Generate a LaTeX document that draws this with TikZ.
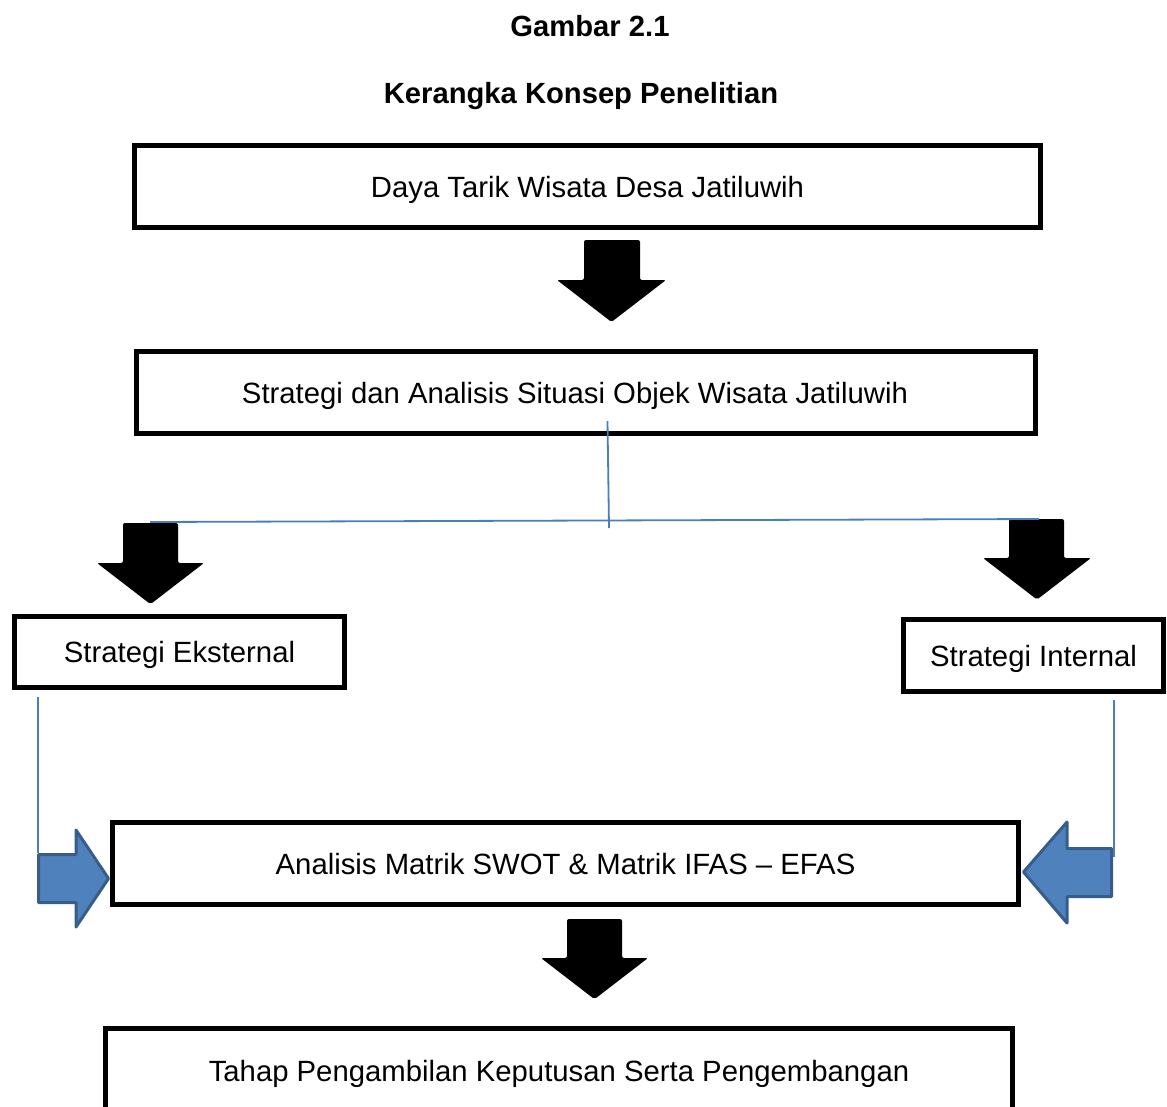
\documentclass[tikz,border=0pt]{standalone}
\usepackage{fontspec}
\setmainfont{Liberation Sans}
\definecolor{lineblue}{HTML}{4A7EBB}
\definecolor{fillblue}{HTML}{4F81BD}
\definecolor{edgeblue}{HTML}{385D8A}
\newcommand{\BlkDown}[6]{% shaft left, shaft right, top, head base, head left, head right ; tip computed
  \fill[black,rounded corners=2pt] (#1,#3) -- (#2,#3) -- (#2,#4) -- (#6,#4) -- ({(#5+#6)/2},{#4+(#6-#5)*0.385}) -- (#5,#4) -- (#1,#4) -- cycle;}
\begin{document}
\begin{tikzpicture}[x=1pt,y=-1pt,
  box/.style={draw=black,line width=5pt,rectangle,inner sep=0pt,
    font=\fontsize{29.3}{35}\selectfont,text height=21pt,text depth=0pt},
  ttl/.style={font=\fontsize{29.2}{35}\selectfont\bfseries,anchor=base,inner sep=0pt},
  thin/.style={draw=lineblue,line width=1.8pt},
  bluearrow/.style={fill=fillblue,draw=edgeblue,line width=3pt,line join=round}]
\useasboundingbox (0,0) rectangle (1167,1106);
\fill[white] (0,0) rectangle (1167,1106);

\node[ttl] (t1) at (590,36) {Gambar 2.1};
\node[ttl] (t2) at (581,103) {Kerangka Konsep Penelitian};

\node[box,minimum width=906pt,minimum height=82pt] (b1) at (587.5,186.5) {Daya Tarik Wisata Desa Jatiluwih};
\node[box,minimum width=899pt,minimum height=82pt] (b2) at (586,392.5) {\hspace*{-22pt}Strategi dan Analisis Situasi Objek Wisata Jatiluwih};
\node[box,minimum width=330pt,minimum height=71pt] (ext) at (179.5,652) {Strategi Eksternal};
\node[box,minimum width=260pt,minimum height=72pt] (int) at (1033.5,655.5) {Strategi Internal};
\node[box,minimum width=906pt,minimum height=82pt] (swot) at (565.5,863.5) {Analisis Matrik SWOT \& Matrik IFAS -- EFAS};
\node[box,minimum width=907pt,minimum height=85pt] (tahap) at (559,1071) {Tahap Pengambilan Keputusan Serta Pengembangan};

% black block arrows
\BlkDown{584}{640}{240}{280}{557}{666}
\BlkDown{123}{178}{523}{563}{97}{204}
\BlkDown{1009}{1064}{519}{558}{983}{1091}
\BlkDown{567}{622}{919}{958}{541}{648}

% thin blue connectors
\coordinate (vt) at (607.5,421);
\coordinate (vb) at (609,528);
\coordinate (hl) at (150,522);
\coordinate (hr) at (1039,519);
\draw[thin] (vt) -- (vb);
\draw[thin] (hl) -- (hr);

% blue block arrows
\draw[bluearrow] (38.5,854.5) -- (76,854.5) -- (76,830) -- (108.5,878.5) -- (76,927) -- (76,902.5) -- (38.5,902.5) -- cycle;
\draw[bluearrow] (1023.5,872) -- (1067,822) -- (1067,848.5) -- (1111.5,848.5) -- (1111.5,896.5) -- (1067,896.5) -- (1067,923) -- cycle;

\coordinate (lt) at (38,697);
\coordinate (lb) at (38,853);
\coordinate (rt) at (1114,700);
\coordinate (rb) at (1114,857);
\draw[thin] (lt) -- (lb);
\draw[thin] (rt) -- (rb);
\end{tikzpicture}
\end{document}
